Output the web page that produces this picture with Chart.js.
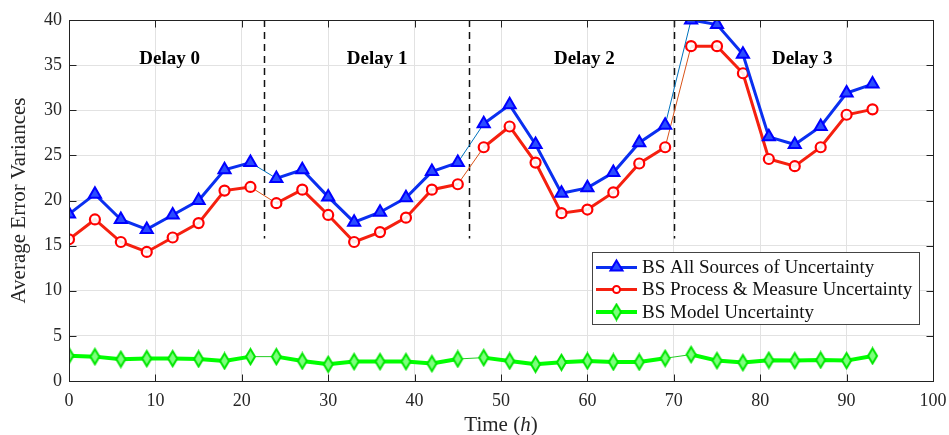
<!DOCTYPE html>
<html>
<head>
<meta charset="utf-8">
<script src="https://cdn.jsdelivr.net/npm/chart.js@4/dist/chart.umd.min.js"></script>
<style>
  html, body { margin: 0; padding: 0; background: #ffffff; }
  #wrap { width: 949px; height: 435px; }
</style>
</head>
<body>
<div id="wrap"><canvas id="c" width="949" height="435"></canvas></div>
<script>
// Sampling instants (hours)
const hours = [0, 3, 6, 9, 12, 15, 18, 21, 24, 27, 30, 33, 36, 39, 42, 45,
               48, 51, 54, 57, 60, 63, 66, 69, 72, 75, 78, 81, 84, 87, 90, 93];

// Average error variances per uncertainty source
const allSources = [18.5, 20.7, 17.9, 16.8, 18.4, 20.0, 23.4, 24.2, 22.45, 23.4, 20.4, 17.6, 18.7, 20.3, 23.2, 24.2,
                    28.5, 30.6, 26.2, 20.8, 21.4, 23.1, 26.4, 28.35, 40.0, 39.5, 36.2, 27.05, 26.2, 28.2, 31.9, 32.9];
const processMeasure = [15.7, 17.9, 15.4, 14.3, 15.9, 17.5, 21.1, 21.5, 19.7, 21.2, 18.4, 15.4, 16.5, 18.1, 21.2, 21.8,
                        25.9, 28.2, 24.2, 18.6, 19.0, 20.9, 24.1, 25.9, 37.1, 37.1, 34.1, 24.6, 23.8, 25.9, 29.5, 30.1];
const modelOnly = [2.81, 2.7, 2.41, 2.48, 2.48, 2.44, 2.22, 2.7, 2.7, 2.22, 1.85, 2.15, 2.15, 2.15, 1.93, 2.44,
                   2.59, 2.22, 1.85, 2.07, 2.22, 2.11, 2.11, 2.52, 2.93, 2.26, 2.04, 2.3, 2.26, 2.33, 2.26, 2.78];

// Delay regimes: separators and their captions
const delayBoundaries = [22.6, 46.33, 70.0];
const delayLineBottom = 15.8;
const delayNames = ['Delay 0', 'Delay 1', 'Delay 2', 'Delay 3'];
const delayNameX = [11.65, 35.67, 59.64, 84.87];
const delayNameY = 35.64;

// Axis ticks
const xTicks = [0, 10, 20, 30, 40, 50, 60, 70, 80, 90, 100];
const yTicks = [0, 5, 10, 15, 20, 25, 30, 35, 40];

const SERIF = '"Liberation Serif", "Times New Roman", serif';
const TEXT = '#262626';

function pts(vals) { return hours.map((h, i) => ({ x: h, y: vals[i] })); }

// A segment that jumps across a delay separator is drawn thin
function crossesBoundary(ctx) {
  const a = ctx.p0.parsed.x, b = ctx.p1.parsed.x;
  return delayBoundaries.some(d => d > a && d < b);
}

// Tall diamond marker
function makeDiamond(w, h, stroke, fill, lw) {
  const cv = document.createElement('canvas');
  cv.width = w + lw * 2; cv.height = h + lw * 2;
  const g = cv.getContext('2d');
  const cx = cv.width / 2, cy = cv.height / 2;
  g.beginPath();
  g.moveTo(cx, cy - h / 2); g.lineTo(cx + w / 2, cy);
  g.lineTo(cx, cy + h / 2); g.lineTo(cx - w / 2, cy); g.closePath();
  g.fillStyle = fill; g.fill();
  g.lineWidth = lw; g.strokeStyle = stroke; g.stroke();
  return cv;
}
const diamond = makeDiamond(9, 15, '#00e600', '#7dff7d', 2);

const BLUE = '#0a2ff0', BLUE_THIN = '#0072bd';
const RED = '#f5200f', RED_THIN = '#d95319';
const GREEN = '#00ff00', GREEN_THIN = '#22cc22';

const datasets = [
  {
    label: 'BS All Sources of Uncertainty',
    data: pts(allSources),
    borderColor: BLUE, borderWidth: 3,
    pointStyle: 'triangle', pointRadius: 7, pointBorderWidth: 2,
    pointBorderColor: '#0000ff', pointBackgroundColor: '#2a4dff',
    segment: {
      borderWidth: c => crossesBoundary(c) ? 1 : 3,
      borderColor: c => crossesBoundary(c) ? BLUE_THIN : BLUE
    }
  },
  {
    label: 'BS Process & Measure Uncertainty',
    data: pts(processMeasure),
    borderColor: RED, borderWidth: 3,
    pointStyle: 'circle', pointRadius: 5, pointBorderWidth: 2.2,
    pointBorderColor: '#ff0000', pointBackgroundColor: 'rgba(255,255,255,0.9)',
    segment: {
      borderWidth: c => crossesBoundary(c) ? 1 : 3,
      borderColor: c => crossesBoundary(c) ? RED_THIN : RED
    }
  },
  {
    label: 'BS Model Uncertainty',
    data: pts(modelOnly),
    borderColor: GREEN, borderWidth: 4,
    pointStyle: diamond, pointRadius: 7,
    segment: {
      borderWidth: c => crossesBoundary(c) ? 1 : 4,
      borderColor: c => crossesBoundary(c) ? GREEN_THIN : GREEN
    }
  }
];

// Delay separators and captions
const delayPlugin = {
  id: 'delays',
  beforeDatasetsDraw(chart) {
    const { ctx, scales: { x, y } } = chart;
    ctx.save();
    ctx.strokeStyle = '#111'; ctx.lineWidth = 1.5; ctx.setLineDash([7, 5]);
    delayBoundaries.forEach(d => {
      const px = Math.round(x.getPixelForValue(d)) + 0.5;
      ctx.beginPath();
      ctx.moveTo(px, y.getPixelForValue(40));
      ctx.lineTo(px, y.getPixelForValue(delayLineBottom));
      ctx.stroke();
    });
    ctx.setLineDash([]);
    ctx.fillStyle = '#000';
    ctx.font = 'bold 19px ' + SERIF;
    ctx.textAlign = 'center'; ctx.textBaseline = 'middle';
    delayNames.forEach((n, i) => {
      ctx.fillText(n, x.getPixelForValue(delayNameX[i]), y.getPixelForValue(delayNameY));
    });
    ctx.restore();
  }
};

// Box frame with inward ticks on all four sides, x-axis title, and the legend
const framePlugin = {
  id: 'frame',
  afterDraw(chart) {
    const { ctx, chartArea: a, scales: { x, y } } = chart;
    ctx.save();
    ctx.strokeStyle = '#222'; ctx.lineWidth = 1;
    const L = Math.round(a.left) + 0.5, R = Math.round(a.right) + 0.5;
    const T = Math.round(a.top) + 0.5, B = Math.round(a.bottom) + 0.5;
    ctx.strokeRect(L, T, R - L, B - T);
    const tl = 7;
    ctx.beginPath();
    xTicks.forEach(v => {
      const px = Math.round(x.getPixelForValue(v)) + 0.5;
      ctx.moveTo(px, B); ctx.lineTo(px, B - tl);
      ctx.moveTo(px, T); ctx.lineTo(px, T + tl);
    });
    yTicks.forEach(v => {
      const py = Math.round(y.getPixelForValue(v)) + 0.5;
      ctx.moveTo(L, py); ctx.lineTo(L + tl, py);
      ctx.moveTo(R, py); ctx.lineTo(R - tl, py);
    });
    ctx.stroke();

    // x-axis title with an italic unit symbol
    const parts = [['Time (', ''], ['h', 'italic '], [')', '']];
    ctx.fillStyle = TEXT; ctx.textBaseline = 'middle'; ctx.textAlign = 'left';
    let total = 0;
    parts.forEach(p => { ctx.font = p[1] + '21px ' + SERIF; total += ctx.measureText(p[0]).width; });
    let tx = (a.left + a.right) / 2 - total / 2;
    parts.forEach(p => {
      ctx.font = p[1] + '21px ' + SERIF;
      ctx.fillText(p[0], tx, 425);
      tx += ctx.measureText(p[0]).width;
    });

    // Legend (inside the axes, lower right)
    const bx = 592, by = 252, bw = 327, bh = 72;
    ctx.fillStyle = '#fff';
    ctx.fillRect(bx, by, bw, bh);
    ctx.strokeStyle = '#444'; ctx.lineWidth = 1;
    ctx.strokeRect(bx + 0.5, by + 0.5, bw, bh);
    const rows = [15.5, 37.5, 60];
    ctx.font = '19px ' + SERIF;
    ctx.textBaseline = 'middle'; ctx.textAlign = 'left';
    chart.data.datasets.forEach((ds, i) => {
      const cy = by + rows[i];
      const x0 = bx + 4, x1 = bx + 45, xm = (x0 + x1) / 2;
      ctx.strokeStyle = ds.borderColor; ctx.lineWidth = ds.borderWidth;
      ctx.beginPath(); ctx.moveTo(x0, cy); ctx.lineTo(x1, cy); ctx.stroke();
      const opts = chart.getDatasetMeta(i).data[0].options;
      if (i === 0) {
        ctx.fillStyle = opts.backgroundColor; ctx.strokeStyle = opts.borderColor;
        ctx.lineWidth = opts.borderWidth;
        ctx.beginPath();
        ctx.moveTo(xm, cy - 7); ctx.lineTo(xm + 6, cy + 3); ctx.lineTo(xm - 6, cy + 3); ctx.closePath();
        ctx.fill(); ctx.stroke();
      } else if (i === 1) {
        ctx.fillStyle = '#fff'; ctx.strokeStyle = opts.borderColor; ctx.lineWidth = 2;
        ctx.beginPath(); ctx.arc(xm, cy, 3.5, 0, Math.PI * 2); ctx.fill(); ctx.stroke();
      } else {
        ctx.drawImage(diamond, xm - diamond.width / 2, cy - diamond.height / 2);
      }
      ctx.fillStyle = '#111';
      ctx.fillText(ds.label, bx + 50, cy + 1);
    });
    ctx.restore();
  }
};

// Keep the plot box fixed: no extra room reserved for the end tick labels
function noEdgePadding(s) {
  s.paddingLeft = 0; s.paddingRight = 0; s.paddingTop = 0; s.paddingBottom = 0;
}

new Chart(document.getElementById('c'), {
  type: 'line',
  data: { datasets },
  plugins: [delayPlugin, framePlugin],
  options: {
    responsive: false,
    animation: false,
    devicePixelRatio: 1,
    layout: { padding: { top: 20, right: 16, left: 0, bottom: 0 } },
    plugins: { legend: { display: false }, tooltip: { enabled: false } },
    elements: { line: { tension: 0 } },
    scales: {
      x: {
        type: 'linear', min: 0, max: 100,
        afterBuildTicks: s => { s.ticks = xTicks.map(v => ({ value: v })); },
        afterFit: s => { s.height = 54; noEdgePadding(s); },
        grid: { color: '#e2e2e2', lineWidth: 1, drawTicks: false },
        border: { display: false },
        ticks: { color: TEXT, font: { family: SERIF, size: 18 }, padding: 9, maxRotation: 0 }
      },
      y: {
        type: 'linear', min: 0, max: 40,
        afterBuildTicks: s => { s.ticks = yTicks.map(v => ({ value: v })); },
        afterFit: s => { s.width = 69; noEdgePadding(s); },
        grid: { color: '#e2e2e2', lineWidth: 1, drawTicks: false },
        border: { display: false },
        ticks: { color: TEXT, font: { family: SERIF, size: 18 }, padding: 7 },
        title: {
          display: true, text: 'Average Error Variances', color: TEXT,
          font: { family: SERIF, size: 21 }, padding: { top: 7, bottom: 0 }
        }
      }
    }
  }
});
</script>
</body>
</html>
